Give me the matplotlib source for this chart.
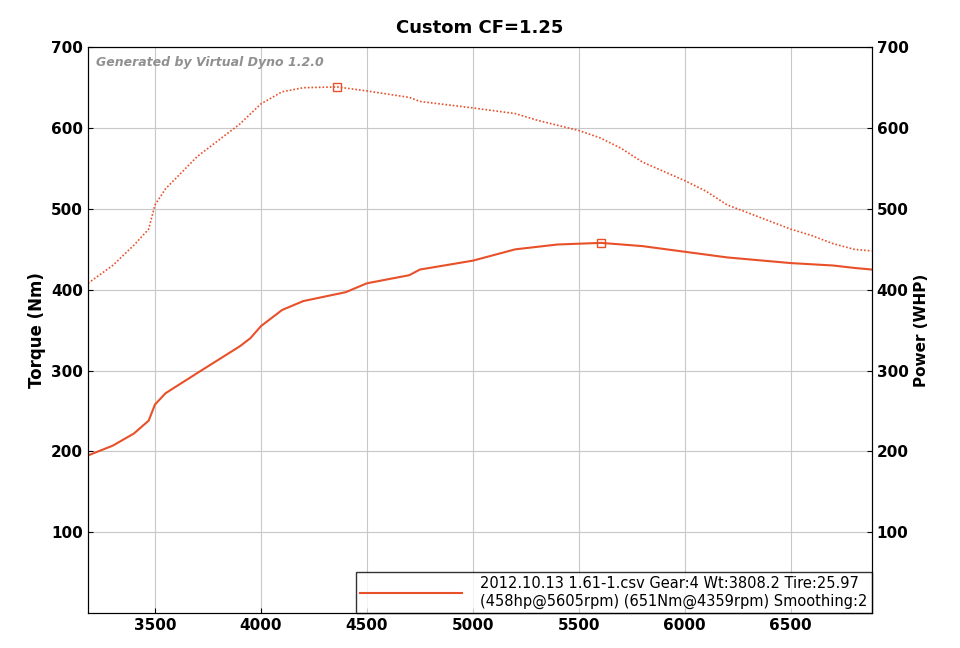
import matplotlib
matplotlib.use("Agg")
import matplotlib.pyplot as plt
import numpy as np

tq_rpm = [3184,3300,3400,3470,3500,3550,3700,3900,4000,4100,4200,4359,4500,4700,4750,5000,5200,5300,5500,5600,5700,5800,6000,6100,6200,6400,6500,6600,6700,6800,6882]
tq_val = [408,430,455,475,505,525,565,605,630,645,650,651,646,638,633,625,618,610,597,588,575,558,535,522,505,485,475,467,457,450,448]
hp_rpm = [3184,3300,3400,3470,3500,3550,3700,3900,3950,4000,4100,4200,4400,4500,4700,4750,5000,5200,5400,5605,5800,6000,6200,6500,6700,6800,6882]
hp_val = [195,207,222,238,258,272,297,330,340,355,375,386,397,408,418,425,436,450,456,458,454,447,440,433,430,427,425]
xticks = [3500,4000,4500,5000,5500,6000,6500]
yticks = [100,200,300,400,500,600,700]
col = "#e8502a"

fig = plt.figure(figsize=(9.6,6.48), dpi=100)
ax = fig.add_axes([0.0917,0.054,0.8163,0.873])
ax.set_xlim(3184,6882); ax.set_ylim(0,700)
ax.plot(tq_rpm, tq_val, color=col, lw=1.2, ls=(0,(1,1.2)))
ax.plot(hp_rpm, hp_val, color=col, lw=1.5)
ax.plot([4359],[651], marker='s', mfc='none', mec=col, ms=6)
ax.plot([5605],[458], marker='s', mfc='none', mec=col, ms=6)
ax.set_xticks(xticks); ax.set_yticks(yticks)
ax.grid(True, color="#c8c8c8", lw=0.8)
ax.tick_params(labelsize=11, direction='in')
for l in ax.get_yticklabels()+ax.get_xticklabels(): l.set_fontweight('bold')
ax.set_ylabel("Torque (Nm)", fontsize=12, fontweight='bold')
ax2 = ax.twinx(); ax2.set_ylim(0,700); ax2.set_yticks(yticks)
ax2.tick_params(labelsize=11, direction='in')
for l in ax2.get_yticklabels(): l.set_fontweight('bold')
ax2.set_ylabel("Power (WHP)", fontsize=11, fontweight='bold')
ax.set_title("Custom CF=1.25", fontsize=13, fontweight='bold', pad=10)
ax.text(0.01,0.985,"Generated by Virtual Dyno 1.2.0", transform=ax.transAxes, fontsize=9,
        style='italic', fontweight='bold', color='#909090', va='top')
leg = ax.legend([plt.Line2D([],[],color=col,lw=1.5)],
    ["2012.10.13 1.61-1.csv Gear:4 Wt:3808.2 Tire:25.97\n(458hp@5605rpm) (651Nm@4359rpm) Smoothing:2"],
    loc='lower right', bbox_to_anchor=(1,0), fontsize=10.5, frameon=True, fancybox=False,
    borderaxespad=0, handlelength=7, handletextpad=1.2, edgecolor='black', borderpad=0.3)
leg.get_frame().set_linewidth(1)
fig.savefig("out.png", dpi=100)
